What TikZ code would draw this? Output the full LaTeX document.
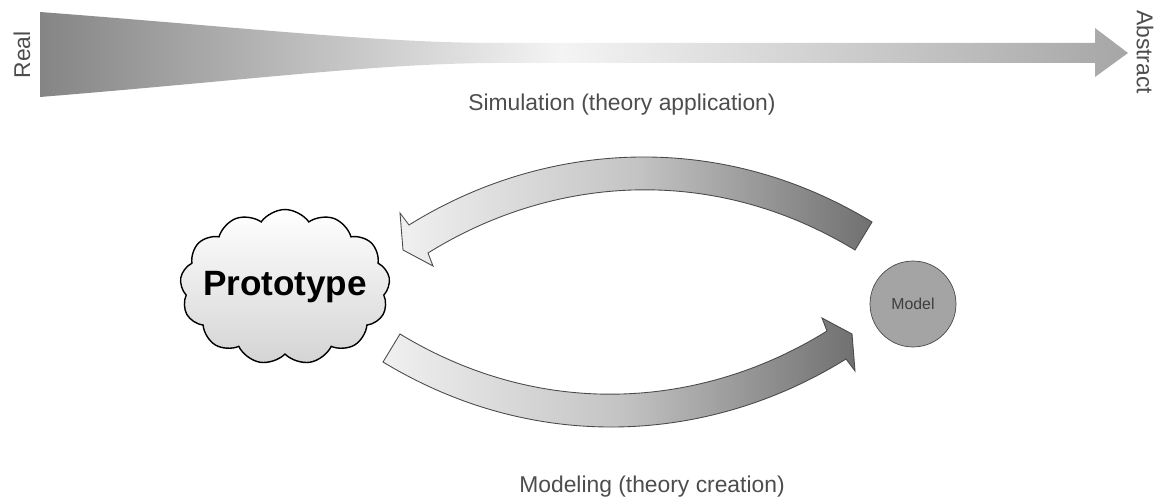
\documentclass[tikz,border=0pt]{standalone}
\usepackage{fontspec}
\setmainfont{Liberation Sans}
\usetikzlibrary{shapes.symbols}
\definecolor{wedgedark}{HTML}{858585}
\definecolor{wedgelight}{HTML}{F4F4F4}
\definecolor{wedgeright}{HTML}{A6A6A6}
\definecolor{arrowlight}{HTML}{F0F0F0}
\definecolor{arrowmid}{HTML}{C4C4C4}
\definecolor{arrowdark}{HTML}{707070}
\definecolor{rim}{HTML}{4A4A4A}
\definecolor{labelgray}{HTML}{4D4D4D}
\definecolor{modelfill}{HTML}{A4A4A4}
\definecolor{cloudshade}{HTML}{D4D4D4}
\pgfdeclarehorizontalshading{realabstract}{100bp}{color(0bp)=(wedgedark); color(25bp)=(wedgedark); color(49bp)=(wedgelight); color(75bp)=(wedgeright); color(100bp)=(wedgeright)}
\pgfdeclarehorizontalshading{loopshade}{100bp}{color(0bp)=(arrowlight); color(25bp)=(arrowlight); color(50bp)=(arrowmid); color(75bp)=(arrowdark); color(100bp)=(arrowdark)}

\begin{document}
\begin{tikzpicture}[x=0.02cm,y=-0.02cm,
    txt/.style={font=\fontsize{13}{15}\selectfont,text=labelgray},
    loop/.style={shading=loopshade,draw=rim,line width=0.5pt}]
  \useasboundingbox (0,0) rectangle (1162,499);
  \shade[shading=realabstract] (40,12) .. controls (250,28) and (380,43) .. (500,43) -- (1095,43) -- (1095,28) -- (1128,53)
    -- (1095,77) -- (1095,63) -- (500,63) .. controls (380,63) and (250,80) .. (40,97) -- cycle;
  \node[txt,rotate=90] (real) at (22,55) {Real};
  \node[txt,rotate=-90] (abstract) at (1145,52) {Abstract};
  \node[txt] (sim) at (622,105) {Simulation (theory application)};
  \node[txt] (modl) at (652,487) {Modeling (theory creation)};

  \node[cloud,cloud puffs=13,cloud puff arc=110,draw,line width=0.8pt,
    top color=white,bottom color=cloudshade,minimum width=4.2cm,minimum height=3.1cm,inner sep=0pt] (proto) at (285,287) {};
  \node[font=\bfseries\fontsize{20}{24}\selectfont] (prototext) at (proto) {Prototype};
  \node[circle,draw=rim,line width=0.4pt,fill=modelfill,minimum size=1.72cm,inner sep=0pt,
    font=\fontsize{9}{11}\selectfont,text=labelgray!80!black] (model) at (913,304) {Model};

  \shade[loop] (872,222) .. controls (718,128.5) and (543,141.5) .. (409,225) -- (400,213) -- (403,250) -- (433,266)
    -- (428,253) .. controls (550,177) and (710,162) .. (855,250) -- cycle;
  \shade[loop] (383,362) .. controls (537,455.5) and (712,442.5) .. (846,359) -- (855,371) -- (852,334) -- (822,318)
    -- (827,331) .. controls (705,407) and (545,422) .. (400,334) -- cycle;
\end{tikzpicture}
\end{document}
